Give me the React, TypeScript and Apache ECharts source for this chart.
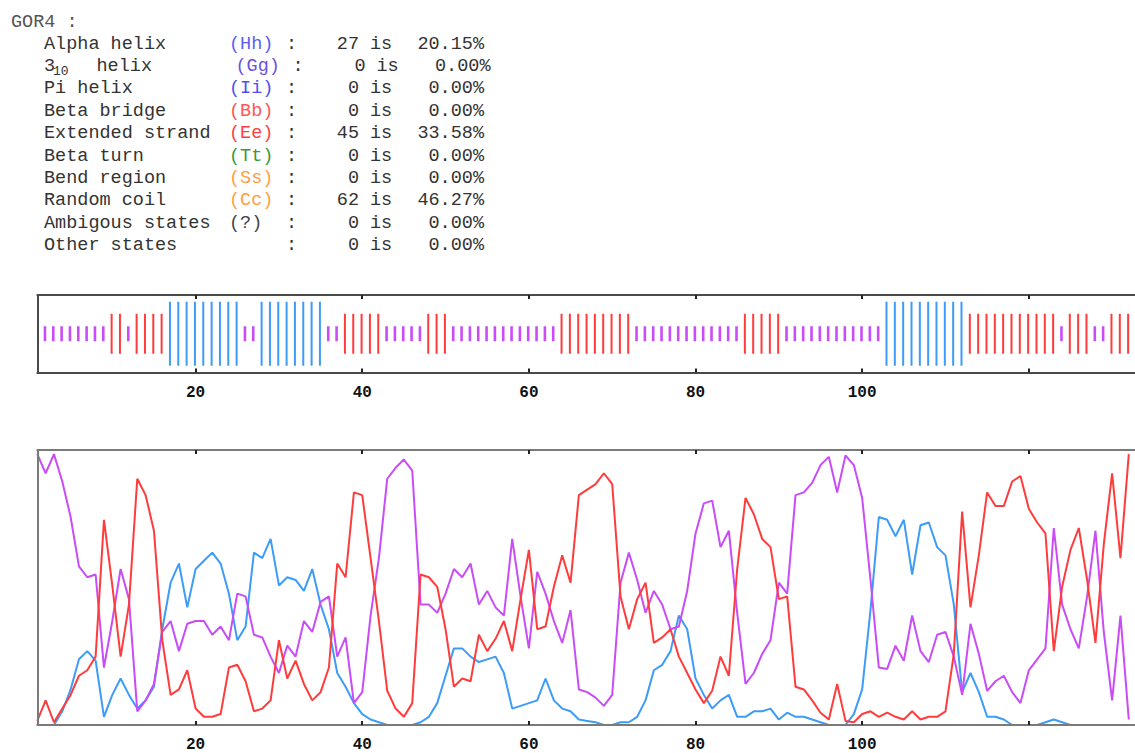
import React, { useEffect, useRef } from "react";
import * as echarts from "echarts";

// ---- summary table (GOR4) ----
const STATE_NAMES = ["Alpha helix", "helix", "Pi helix", "Beta bridge", "Extended strand", "Beta turn", "Bend region", "Random coil", "Ambigous states", "Other states"];
const STATE_CODES = ["(Hh)", "(Gg)", "(Ii)", "(Bb)", "(Ee)", "(Tt)", "(Ss)", "(Cc)", "(?)", ""];
const STATE_COUNTS = [27, 0, 0, 0, 45, 0, 0, 62, 0, 0];
const STATE_PERCENTS = ["20.15%", "0.00%", "0.00%", "0.00%", "33.58%", "0.00%", "0.00%", "46.27%", "0.00%", "0.00%"];

// ---- predicted states per residue (h = helix, e = strand, c = coil) ----
const PREDICTION = [
  "cccccccc", "ee", "c", "eeee", "hhhhhhhhh", "cc", "hhhhhhhh", "cc", "eeeee", "ccccc", "eee",
  "ccccccccccccc", "eeeeeeeee", "ccccccccccccc", "eeeee", "cccccccccccc", "hhhhhhhhhh",
  "eeeeeeeeeee", "c", "eee", "cc", "eee", "ccc",
].join("");

// ---- probability profiles per residue ----
const HELIX_PROB = [
  0.0, 0.0, 0.0, 0.05, 0.13, 0.24, 0.27, 0.235, 0.03, 0.11,
  0.17, 0.11, 0.06, 0.09, 0.14, 0.35, 0.52, 0.59, 0.43, 0.57,
  0.6, 0.63, 0.59, 0.48, 0.31, 0.36, 0.63, 0.61, 0.68, 0.51,
  0.54, 0.53, 0.49, 0.57, 0.44, 0.35, 0.19, 0.14, 0.08, 0.04,
  0.02, 0.01, 0.0, 0.0, 0.0, 0.0, 0.01, 0.03, 0.08, 0.18,
  0.28, 0.28, 0.25, 0.23, 0.24, 0.25, 0.19, 0.06, 0.07, 0.08,
  0.09, 0.17, 0.09, 0.06, 0.05, 0.02, 0.015, 0.01, 0.0, 0.0,
  0.01, 0.01, 0.03, 0.09, 0.2, 0.22, 0.27, 0.4, 0.35, 0.17,
  0.11, 0.06, 0.09, 0.11, 0.03, 0.03, 0.05, 0.05, 0.06, 0.02,
  0.045, 0.03, 0.03, 0.02, 0.01, 0.0, 0.0, 0.0, 0.04, 0.13,
  0.42, 0.76, 0.75, 0.69, 0.75, 0.55, 0.73, 0.74, 0.65, 0.62,
  0.44, 0.12, 0.19, 0.12, 0.03, 0.03, 0.02, 0.0, 0.0, 0.0,
  0.0, 0.01, 0.02, 0.01, 0.0, 0.0, 0.0, 0.0, 0.0, 0.0,
  0.0, 0.0,
];
const STRAND_PROB = [
  0.015, 0.09, 0.01, 0.06, 0.11, 0.18, 0.2, 0.25, 0.75, 0.51,
  0.25, 0.44, 0.9, 0.84, 0.71, 0.31, 0.11, 0.13, 0.2, 0.06,
  0.03, 0.03, 0.04, 0.21, 0.22, 0.16, 0.05, 0.06, 0.09, 0.31,
  0.17, 0.235, 0.15, 0.09, 0.12, 0.21, 0.59, 0.54, 0.85, 0.84,
  0.61, 0.38, 0.125, 0.06, 0.03, 0.08, 0.55, 0.54, 0.505, 0.35,
  0.14, 0.17, 0.16, 0.33, 0.27, 0.315, 0.38, 0.27, 0.46, 0.64,
  0.35, 0.36, 0.505, 0.62, 0.52, 0.84, 0.86, 0.88, 0.92, 0.88,
  0.47, 0.35, 0.46, 0.52, 0.3, 0.32, 0.35, 0.25, 0.19, 0.13,
  0.08, 0.125, 0.25, 0.18, 0.57, 0.83, 0.77, 0.68, 0.65, 0.46,
  0.47, 0.14, 0.13, 0.09, 0.045, 0.02, 0.15, 0.015, 0.01, 0.04,
  0.05, 0.03, 0.045, 0.03, 0.02, 0.05, 0.02, 0.03, 0.03, 0.05,
  0.26, 0.78, 0.43, 0.62, 0.85, 0.8, 0.8, 0.89, 0.91, 0.79,
  0.74, 0.7, 0.27, 0.505, 0.64, 0.72, 0.53, 0.3, 0.66, 0.92,
  0.61, 0.99,
];
const COIL_PROB = [
  0.99, 0.92, 0.99, 0.89, 0.76, 0.58, 0.54, 0.55, 0.21, 0.38,
  0.57, 0.46, 0.05, 0.09, 0.15, 0.34, 0.38, 0.27, 0.37, 0.38,
  0.38, 0.33, 0.36, 0.31, 0.48, 0.47, 0.33, 0.32, 0.25, 0.19,
  0.29, 0.25, 0.38, 0.34, 0.45, 0.47, 0.25, 0.32, 0.08, 0.12,
  0.4, 0.61, 0.9, 0.94, 0.97, 0.93, 0.44, 0.44, 0.41, 0.48,
  0.57, 0.54, 0.59, 0.44, 0.49, 0.43, 0.4, 0.68, 0.47, 0.28,
  0.56, 0.48, 0.38, 0.3, 0.42, 0.13, 0.12, 0.1, 0.07, 0.11,
  0.52, 0.63, 0.53, 0.41, 0.49, 0.44, 0.35, 0.36, 0.49, 0.7,
  0.81, 0.82, 0.65, 0.71, 0.41, 0.15, 0.19, 0.26, 0.31, 0.52,
  0.48, 0.84, 0.85, 0.885, 0.95, 0.98, 0.85, 0.985, 0.95, 0.83,
  0.53, 0.21, 0.205, 0.29, 0.235, 0.4, 0.27, 0.23, 0.33, 0.34,
  0.25, 0.11, 0.37, 0.26, 0.125, 0.16, 0.18, 0.12, 0.08, 0.2,
  0.24, 0.28, 0.72, 0.44, 0.35, 0.28, 0.47, 0.71, 0.34, 0.09,
  0.4, 0.02,
];

const TICK_VALUES = [20, 40, 60, 80, 100, 120];
const LABEL_VALUES = [20, 40, 60, 80, 100];

// ---- styling ----
const W = 1135;
const H = 753;
const PX_PER_RES = 8.332;
const PLOT_LEFT = 37.3;
const X_MAX = 1 + (W - PLOT_LEFT) / PX_PER_RES;
const TRACK_SHIFT = 0.92;
const HELIX_COLOR = "#3d9cf7";
const STRAND_COLOR = "#ff3c3c";
const COIL_COLOR = "#c94cf7";
const CODE_COLORS = ["#5c5cf5", "#6a52e0", "#4f4ff0", "#ff5555", "#ff4040", "#3a9a3a", "#ffa040", "#ffa040", "#444", "#444"];
const TEXT_COLOR = "#333333";
const MONO = '"Liberation Mono", "DejaVu Sans Mono", monospace';
const STATE_INDEX: Record<string, number> = { h: 0, e: 1, c: 2 };
const STATE_COLORS = [HELIX_COLOR, STRAND_COLOR, COIL_COLOR];
const STATE_HALF = [32, 20, 7.5];
const STATE_WIDTH = [2, 2, 2.6];

function textEl(text: string, x: number, y: number, opts: any = {}) {
  return {
    type: "text",
    x,
    y,
    silent: true,
    style: {
      text,
      fill: opts.fill || TEXT_COLOR,
      fontFamily: MONO,
      fontSize: opts.fontSize || 18.5,
      fontWeight: opts.fontWeight || "normal",
      align: opts.align || "left",
      verticalAlign: "middle",
    },
  };
}

function buildGraphics() {
  const els: any[] = [];
  els.push(textEl("GOR4 :", 11, 22.7, { fill: "#555555" }));
  STATE_NAMES.forEach((name, i) => {
    const y = 44 + i * 22.4;
    const shift = i === 1 ? 6.5 : 0;
    if (i === 1) {
      els.push(textEl("3", 44, y));
      els.push(textEl("10", 53, y + 5, { fontSize: 13 }));
      els.push(textEl(name, 96.5, y));
    } else {
      els.push(textEl(name, 44, y));
    }
    if (STATE_CODES[i]) els.push(textEl(STATE_CODES[i], 229 + shift, y, { fill: CODE_COLORS[i] }));
    els.push(textEl(":", 286 + shift, y));
    els.push(textEl(String(STATE_COUNTS[i]), 359 + shift, y, { align: "right" }));
    els.push(textEl("is", 370 + shift, y));
    els.push(textEl(STATE_PERCENTS[i], 484 + shift, y, { align: "right" }));
  });
  return els;
}

function xAxisPair(gridIndex: number, frameColor: string) {
  const common = {
    gridIndex,
    type: "value",
    min: 1,
    max: X_MAX,
    z: 10,
    splitLine: { show: false },
    axisLine: { show: true, onZero: false, lineStyle: { color: frameColor, width: 2 } },
    axisTick: { show: true, inside: true, length: 4, customValues: TICK_VALUES, lineStyle: { color: "#222", width: 2 } },
  };
  return [
    {
      ...common,
      position: "bottom",
      axisLabel: {
        show: true,
        customValues: LABEL_VALUES,
        margin: 12,
        color: "#111",
        fontFamily: MONO,
        fontWeight: "bold",
        fontSize: 16,
      },
    },
    { ...common, position: "top", axisLabel: { show: false } },
  ];
}

export default function App() {
  const ref = useRef<HTMLDivElement>(null);
  useEffect(() => {
    if (!ref.current) return;
    const chart = echarts.init(ref.current, undefined, { renderer: "svg" });
    const trackData = PREDICTION.split("").map((s, i) => [i + 1, STATE_INDEX[s]]);
    const toPairs = (arr: number[]) => arr.map((v, i) => [i + 1, v]);
    const lineSeries = (name: string, arr: number[], color: string) => ({
      name,
      type: "line",
      xAxisIndex: 2,
      yAxisIndex: 1,
      data: toPairs(arr),
      showSymbol: false,
      symbol: "none",
      clip: true,
      z: 2,
      lineStyle: { color, width: 2 },
    });
    chart.setOption({
      animation: false,
      backgroundColor: "#ffffff",
      grid: [
        { left: PLOT_LEFT, right: 0, top: 295, height: 77.5 },
        { left: PLOT_LEFT, right: 0, top: 450, height: 275 },
      ],
      xAxis: [...xAxisPair(0, "#4a4a4a"), ...xAxisPair(1, "#7a7a7a")],
      yAxis: [
        {
          gridIndex: 0, type: "value", min: -1, max: 1, z: 10,
          axisLine: { show: true, lineStyle: { color: "#4a4a4a", width: 2 } },
          axisTick: { show: false }, axisLabel: { show: false }, splitLine: { show: false },
        },
        {
          gridIndex: 1, type: "value", min: 0, max: 1.005, z: 10,
          axisLine: { show: true, lineStyle: { color: "#7a7a7a", width: 2 } },
          axisTick: { show: false }, axisLabel: { show: false }, splitLine: { show: false },
        },
      ],
      graphic: buildGraphics(),
      series: [
        {
          type: "custom",
          xAxisIndex: 0,
          yAxisIndex: 0,
          data: trackData,
          clip: false,
          renderItem: (params: any, api: any) => {
            const k = api.value(0);
            const s = api.value(1);
            const p = api.coord([k + TRACK_SHIFT, 0]);
            const half = STATE_HALF[s];
            return {
              type: "line",
              shape: { x1: p[0], y1: p[1] - half, x2: p[0], y2: p[1] + half },
              style: { stroke: STATE_COLORS[s], lineWidth: STATE_WIDTH[s] },
            };
          },
        },
        lineSeries("Helix", HELIX_PROB, HELIX_COLOR),
        lineSeries("Coil", COIL_PROB, COIL_COLOR),
        lineSeries("Strand", STRAND_PROB, STRAND_COLOR),
      ],
    });
    return () => chart.dispose();
  }, []);
  return (
    <div style={{ position: "absolute", left: 0, top: 0, width: W, height: H, overflow: "hidden", background: "#fff" }}>
      <div ref={ref} style={{ width: W, height: H }} />
    </div>
  );
}
